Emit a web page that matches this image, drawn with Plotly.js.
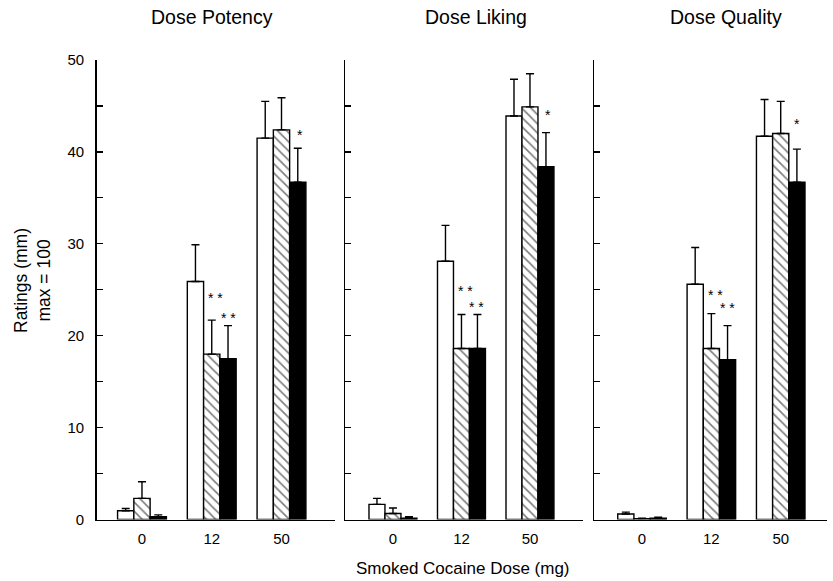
<!DOCTYPE html>
<html><head><meta charset="utf-8">
<script src="https://cdn.plot.ly/plotly-3.0.1.min.js"></script>
<style>html,body{margin:0;padding:0;background:#fff}#chart{width:833px;height:581px}</style>
</head><body><div id="chart"></div>
<script>
// ---- data ----
const doses = ['0', '12', '50'];
const panelTitles = ['Dose Potency', 'Dose Liking', 'Dose Quality'];
const seriesNames = ['Open bars', 'Hatched bars', 'Filled bars'];

const potencyOpen = [0.95, 25.9, 41.5];
const potencyOpenErr = [0.25, 4.0, 4.0];
const potencyHatched = [2.3, 18.0, 42.4];
const potencyHatchedErr = [1.8, 3.7, 3.5];
const potencyFilled = [0.3, 17.5, 36.7];
const potencyFilledErr = [0.2, 3.6, 3.7];

const likingOpen = [1.65, 28.1, 43.9];
const likingOpenErr = [0.65, 3.9, 4.0];
const likingHatched = [0.65, 18.6, 44.9];
const likingHatchedErr = [0.6, 3.7, 3.6];
const likingFilled = [0.15, 18.6, 38.4];
const likingFilledErr = [0.15, 3.7, 3.7];

const qualityOpen = [0.6, 25.6, 41.7];
const qualityOpenErr = [0.2, 4.0, 4.0];
const qualityHatched = [0.1, 18.6, 42.0];
const qualityHatchedErr = [0.05, 3.8, 3.5];
const qualityFilled = [0.15, 17.4, 36.7];
const qualityFilledErr = [0.1, 3.7, 3.6];

const potencyStarsHatched = ['', '* *', ''];
const potencyStarsFilled = ['', '* *', '*'];
const likingStarsHatched = ['', '* *', ''];
const likingStarsFilled = ['', '* *', '*'];
const qualityStarsHatched = ['', '* *', ''];
const qualityStarsFilled = ['', '* *', '*'];

const yTickVals = [0, 10, 20, 30, 40, 50];

// ---- build ----
const panels = [
  {open: potencyOpen, openErr: potencyOpenErr, hat: potencyHatched, hatErr: potencyHatchedErr, fil: potencyFilled, filErr: potencyFilledErr, sH: potencyStarsHatched, sF: potencyStarsFilled},
  {open: likingOpen, openErr: likingOpenErr, hat: likingHatched, hatErr: likingHatchedErr, fil: likingFilled, filErr: likingFilledErr, sH: likingStarsHatched, sF: likingStarsFilled},
  {open: qualityOpen, openErr: qualityOpenErr, hat: qualityHatched, hatErr: qualityHatchedErr, fil: qualityFilled, filErr: qualityFilledErr, sH: qualityStarsHatched, sF: qualityStarsFilled}
];

const W = 833, H = 581;
const xDomPx = [[96.5, 335], [345, 583], [594.3, 826.7]];
const xRanges = [[-0.652, 2.767], [-0.70, 2.774], [-0.688, 2.663]];
const yDom = [1 - 519.5 / H, 1 - 60 / H];
const titleX = [212, 476, 726];
// star placement style: [xshift px, lift px] for hatched@12, filled@12, filled@50
const starStyle = [
  {h1: [3.5, 25], f1: [0, 10.5], f2: [2, 16.5]},
  {h1: [4, 27], f1: [-1, 10.5], f2: [2, 21]},
  {h1: [4.5, 22], f1: [0, 21], f2: [0, 28]}
];

const FONT = 'Liberation Sans, Arial, Helvetica, sans-serif';
const traces = [];
const annotations = [];
const layout = {
  width: W, height: H,
  margin: {l: 0, r: 0, t: 0, b: 0},
  paper_bgcolor: '#fff', plot_bgcolor: '#fff',
  showlegend: false,
  barmode: 'group', bargap: 0.3, bargroupgap: 0,
  font: {family: FONT, color: '#000'},
  annotations: annotations
};

function errOpts(arr) {
  return {type: 'data', symmetric: false, array: arr, arrayminus: arr.map(() => 0),
          color: '#000', thickness: 1.4, width: 4};
}

panels.forEach((p, i) => {
  const sfx = i === 0 ? '' : String(i + 1);
  const xr = 'x' + sfx, yr = 'y' + sfx;
  const lineStyle = {color: '#000', width: 1.4};
  traces.push({type: 'bar', name: seriesNames[0], x: doses, y: p.open, xaxis: xr, yaxis: yr,
    marker: {color: '#fff', line: lineStyle}, error_y: errOpts(p.openErr), hoverinfo: 'y'});
  traces.push({type: 'bar', name: seriesNames[1], x: doses, y: p.hat, xaxis: xr, yaxis: yr,
    marker: {color: '#fff', line: lineStyle,
      pattern: {shape: '\\', fgcolor: '#000', bgcolor: '#fff', size: 6.5, solidity: 0.26, fillmode: 'overlay'}},
    error_y: errOpts(p.hatErr), hoverinfo: 'y'});
  traces.push({type: 'bar', name: seriesNames[2], x: doses, y: p.fil, xaxis: xr, yaxis: yr,
    marker: {color: '#000', line: lineStyle}, error_y: errOpts(p.filErr), hoverinfo: 'y'});

  layout['xaxis' + sfx] = {
    type: 'category', domain: [xDomPx[i][0] / W, xDomPx[i][1] / W], range: xRanges[i],
    anchor: yr, showline: true, linecolor: '#000', linewidth: 1.4, ticks: '',
    ticklabelstandoff: 5,
    showgrid: false, zeroline: false, tickfont: {size: 15, color: '#000'}, fixedrange: true
  };
  layout['yaxis' + sfx] = {
    domain: yDom, range: [0, 50], anchor: xr, showline: true, linecolor: '#000', linewidth: 1.4,
    ticks: 'inside', ticklen: 6, tickwidth: 1.2, tickcolor: '#000',
    tickmode: 'array', tickvals: yTickVals, showticklabels: i === 0,
    minor: {dtick: 5, ticks: 'inside', ticklen: 6, tickwidth: 1.2, tickcolor: '#000'},
    ticklabelstandoff: 8,
    showgrid: false, zeroline: false, tickfont: {size: 15, color: '#000'}, fixedrange: true
  };

  // panel title
  annotations.push({text: panelTitles[i], xref: 'paper', yref: 'paper', x: titleX[i] / W, y: 1 - 17 / H,
    xanchor: 'center', yanchor: 'middle', showarrow: false, font: {size: 19.5, color: '#000'}});

  // significance asterisks
  const offs = [-(0.7 / 3), 0, 0.7 / 3];
  const st = starStyle[i];
  const addStar = (txt, di, si, vals, errs, s) => {
    if (!txt) return;
    annotations.push({text: txt, xref: xr, yref: yr, x: di + offs[si], y: vals[di] + errs[di],
      xanchor: 'center', yanchor: 'middle', xshift: s[0], yshift: s[1] - 3,
      showarrow: false, font: {size: 14, color: '#000'}});
  };
  p.sH.forEach((t, di) => addStar(t, di, 1, p.hat, p.hatErr, st['h' + di] || [0, 15]));
  p.sF.forEach((t, di) => addStar(t, di, 2, p.fil, p.filErr, st['f' + di] || [0, 15]));
});

annotations.push({text: 'Smoked Cocaine Dose (mg)', xref: 'paper', yref: 'paper', x: 463 / W, y: 1 - 568 / H,
  xanchor: 'center', yanchor: 'middle', showarrow: false, font: {size: 17, color: '#000'}});
annotations.push({text: 'Ratings (mm)<br>max = 100', xref: 'paper', yref: 'paper', x: 32 / W, y: 1 - 280 / H,
  xanchor: 'center', yanchor: 'middle', textangle: -90, showarrow: false, font: {size: 17.5, color: '#000'}});

Plotly.newPlot('chart', traces, layout, {staticPlot: true, displayModeBar: false});
</script>
</body></html>
